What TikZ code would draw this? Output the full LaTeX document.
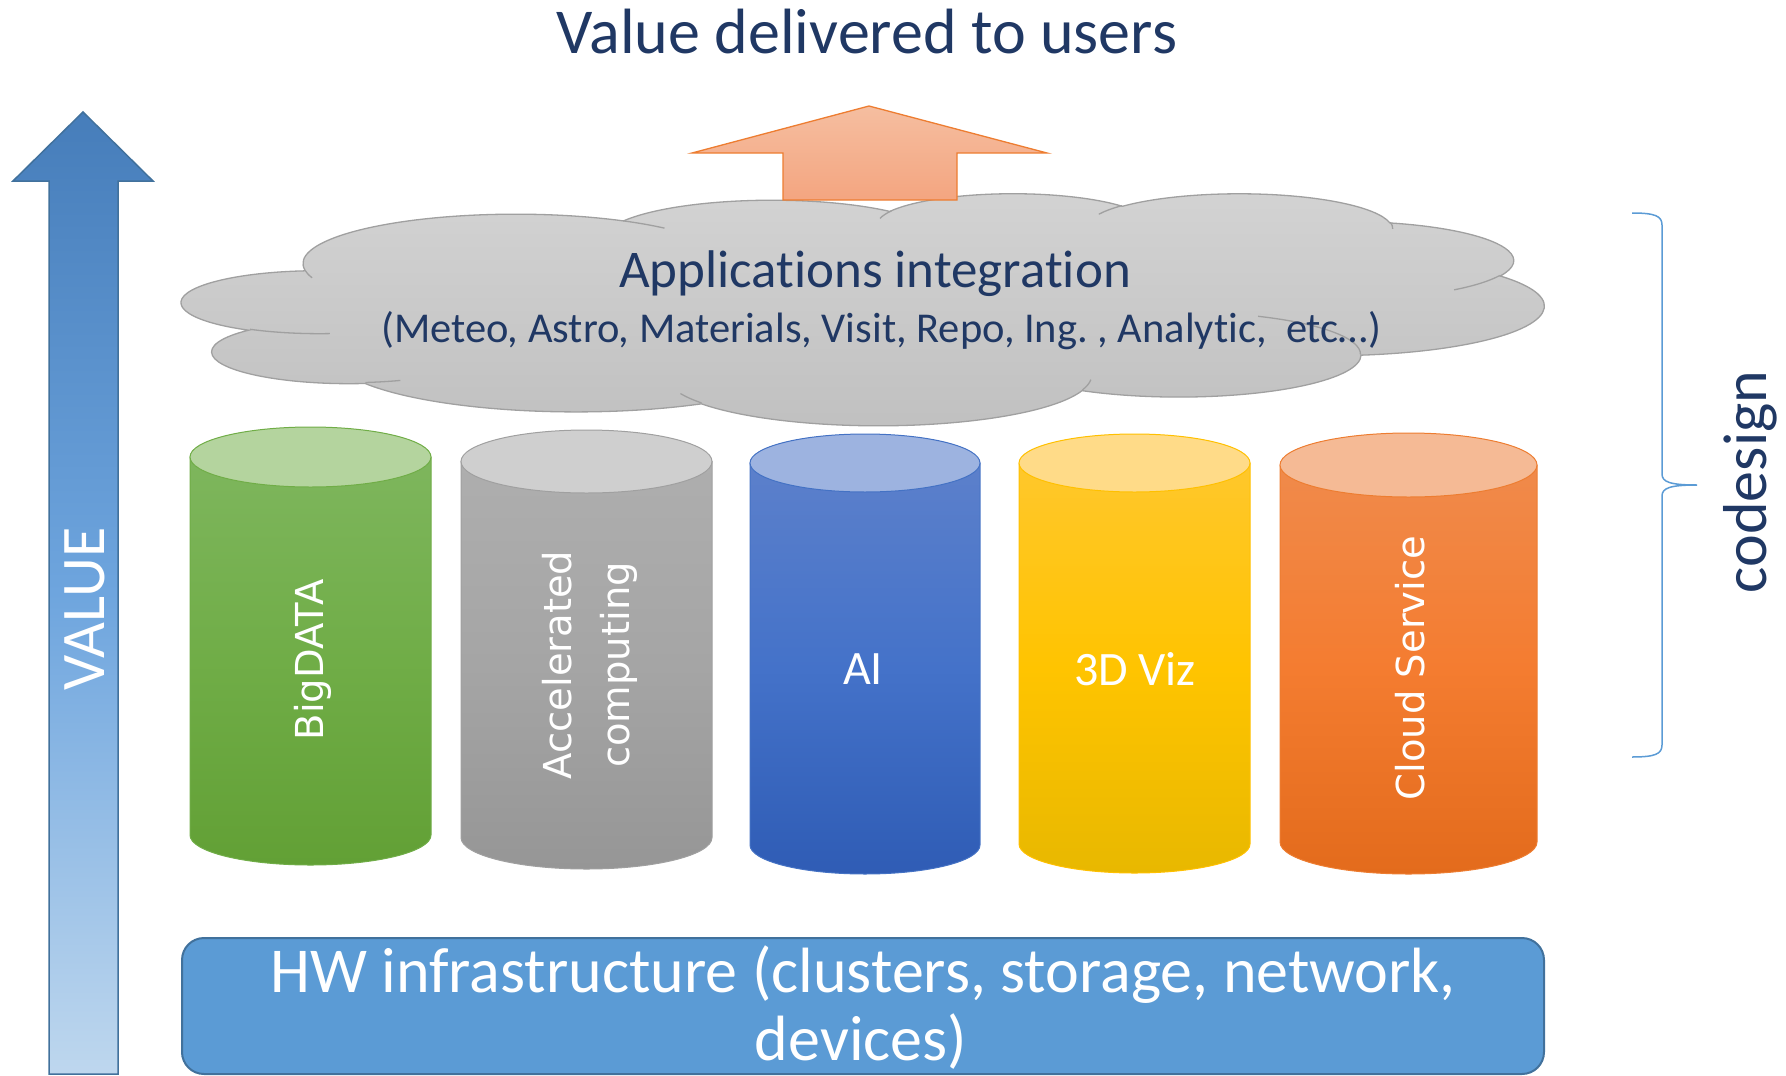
\documentclass[tikz,border=0pt]{standalone}
\usepackage{fontspec}
\setmainfont{Carlito}[RawFeature={-liga;-calt;-clig;-dlig}]
\newfontfamily\verd{DejaVu Sans}
\frenchspacing
\definecolor{navy}{RGB}{32,56,100}
\definecolor{valtop}{RGB}{70,125,186}
\definecolor{valmid}{RGB}{110,165,222}
\definecolor{valbot}{RGB}{190,215,238}
\definecolor{valline}{RGB}{65,113,156}
\definecolor{hwfill}{RGB}{91,155,213}
\definecolor{hwline}{RGB}{65,113,156}
\definecolor{cloudtop}{RGB}{211,211,211}
\definecolor{cloudbot}{RGB}{192,192,192}
\definecolor{cloudline}{RGB}{160,160,160}
\definecolor{arrtop}{RGB}{245,190,160}
\definecolor{arrbot}{RGB}{244,165,128}
\definecolor{arrline}{RGB}{237,125,49}
\definecolor{bracecol}{RGB}{91,155,213}
% cylinders
\definecolor{grtop}{RGB}{126,182,93}
\definecolor{grmid}{RGB}{112,173,71}
\definecolor{grbot}{RGB}{98,160,53}
\definecolor{grcap}{RGB}{180,212,158}
\definecolor{grline}{RGB}{112,173,71}
\definecolor{gytop}{RGB}{174,174,174}
\definecolor{gymid}{RGB}{165,165,165}
\definecolor{gybot}{RGB}{150,150,150}
\definecolor{gycap}{RGB}{207,207,207}
\definecolor{gyline}{RGB}{160,160,160}
\definecolor{bltop}{RGB}{92,128,203}
\definecolor{blmid}{RGB}{68,114,201}
\definecolor{blbot}{RGB}{47,92,181}
\definecolor{blcap}{RGB}{157,179,224}
\definecolor{blline}{RGB}{68,114,196}
\definecolor{yltop}{RGB}{255,199,44}
\definecolor{ylmid}{RGB}{255,196,0}
\definecolor{ylbot}{RGB}{232,184,0}
\definecolor{ylcap}{RGB}{255,219,136}
\definecolor{ylline}{RGB}{255,192,0}
\definecolor{ortop}{RGB}{240,138,75}
\definecolor{ormid}{RGB}{244,124,48}
\definecolor{orbot}{RGB}{227,107,28}
\definecolor{orcap}{RGB}{245,186,149}
\definecolor{orline}{RGB}{237,125,49}
\newcommand{\mycyl}[6]{%
  \pgfmathsetmacro\myrx{(#2-#1)/2}%
  \pgfmathsetmacro\mycx{(#1+#2)/2}%
  \draw[draw=#6line, line width=1pt, top color=#6top, bottom color=#6bot, middle color=#6mid]
    (#1,#3) -- (#1,#4) arc[start angle=180, end angle=0, x radius=\myrx, y radius=#5] -- (#2,#3) -- cycle;
  \draw[draw=#6line, line width=1pt, fill=#6cap] (\mycx,#3) ellipse[x radius=\myrx, y radius=#5];
}
\begin{document}
\begin{tikzpicture}[x=1pt,y=-1pt,
  navytxt/.style={text=navy, inner sep=0pt},
  whitetxt/.style={text=white, inner sep=0pt},
  cloudedge/.style={draw=cloudline, line width=1.3pt}]
\useasboundingbox (0,0) rectangle (1786,1076);

% VALUE arrow
\draw[draw=valline, line width=1.5pt, top color=valtop, bottom color=valbot, middle color=valmid]
  (83,112) -- (153,181) -- (118,181) -- (118,1074) -- (49,1074) -- (49,181) -- (13,181) -- cycle;
\node[whitetxt, rotate=90, font=\fontsize{62}{68}\selectfont] (value) at (85,609) {VALUE};

% title
\node[navytxt, anchor=base, font=\fontsize{64}{70}\selectfont] (title) at (867,53) {Value delivered to users};

% cloud
\begin{scope}[shift={(182,193)}, xscale=3.1528, yscale=0.53704]
\draw[cloudedge, top color=cloudtop, bottom color=cloudbot]
  (39.00,143.70)
  arc[start angle=-187.75, end angle=-59.66, x radius=67.53, y radius=91.90]
  arc[start angle=-152.02, end angle=-45.48, x radius=53.33, y radius=72.67]
  arc[start angle=-153.48, end angle=-37.33, x radius=43.65, y radius=59.45]
  arc[start angle=-139.71, end angle=-10.22, x radius=48.57, y radius=65.95]
  arc[start angle=-74.76, end angle=23.21, x radius=53.33, y radius=72.73]
  arc[start angle=-37.52, end angle=81.86, x radius=67.75, y radius=92.20]
  arc[start angle=0.46, end angle=121.98, x radius=57.85, y radius=78.67]
  arc[start angle=16.84, end angle=146.22, x radius=67.52, y radius=92.15]
  arc[start angle=59.03, end angle=150.17, x radius=77.20, y radius=105.43]
  arc[start angle=-276.69, end angle=-136.89, x radius=43.60, y radius=59.18]
  arc[start angle=-239.63, end angle=-95.89, x radius=43.45, y radius=59.45]
  -- cycle;
\draw[cloudedge] (46.93,261.77) arc[start angle=85.54, end angle=120.37, x radius=43.45, y radius=59.45];
\draw[cloudedge] (69.28,348.99) arc[start angle=68.24, end angle=83.31, x radius=43.60, y radius=59.18];
\draw[cloudedge] (164.78,390.90) arc[start angle=146.22, end angle=158.47, x radius=67.52, y radius=92.15];
\draw[cloudedge] (288.27,347.51) arc[start angle=4.74, end angle=16.84, x radius=67.52, y radius=92.15];
\draw[cloudedge] (341.29,229.54) arc[start angle=-64.01, end angle=0.46, x radius=57.85, y radius=78.67];
\draw[cloudedge] (417.98,153.54) arc[start angle=23.21, end angle=49.67, x radius=53.33, y radius=72.73];
\draw[cloudedge] (383.24,54.26) arc[start angle=-10.22, end angle=0.82, x radius=48.57, y radius=65.95];
\draw[cloudedge] (290.78,39.52) arc[start angle=-156.28, end angle=-139.71, x radius=48.57, y radius=65.95];
\draw[cloudedge] (221.41,47.20) arc[start angle=-167.72, end angle=-153.48, x radius=43.65, y radius=59.45];
\draw[cloudedge] (140.00,51.92) arc[start angle=-59.66, end angle=-45.74, x radius=67.53, y radius=91.90];
\draw[cloudedge] (41.27,157.89) arc[start angle=163.19, end angle=172.25, x radius=67.53, y radius=91.90];
\end{scope}
\node[navytxt, anchor=base, font=\fontsize{53}{60}\selectfont] (apps) at (875,287) {Applications integration};
\node[navytxt, anchor=base, font=\fontsize{42.5}{48}\selectfont] (appl) at (881,342) {(Meteo, Astro, Materials, Visit, Repo, Ing. , Analytic,~ etc…)};

% orange arrow
\draw[draw=arrline, line width=1.3pt, top color=arrtop, bottom color=arrbot]
  (869,106) -- (1047,153) -- (957,153) -- (957,200) -- (783,200) -- (783,153) -- (692,153) -- cycle;

% cylinders
\mycyl{190}{431}{457}{835}{30}{gr}
\mycyl{461}{712}{461.5}{837.5}{31.5}{gy}
\mycyl{750}{980}{463}{845}{29}{bl}
\mycyl{1019}{1250}{463}{844}{29}{yl}
\mycyl{1280}{1537}{465}{842}{32}{or}
\node[whitetxt, rotate=90, font=\verd\fontsize{38.5}{44}\selectfont] (bigdata) at (313,660) {BigDATA};
\node[whitetxt, rotate=90, align=center, font=\verd\fontsize{38.5}{58}\selectfont] (accel) at (590,665) {Accelerated\\computing};
\node[whitetxt, font=\fontsize{48}{54}\selectfont] (ai) at (863,669) {AI};
\node[whitetxt, font=\fontsize{48}{54}\selectfont] (viz) at (1135,669) {3D Viz};
\node[whitetxt, rotate=90, font=\verd\fontsize{38.5}{44}\selectfont] (cloudsvc) at (1410,668) {Cloud Service};

% brace + codesign
\draw[draw=bracecol, line width=1.5pt]
  (1632,213) .. controls (1655,213) and (1662,216) .. (1662,225) -- (1662,474)
  .. controls (1662,482) and (1670,485) .. (1697,485)
  .. controls (1670,485) and (1662,488) .. (1662,496) -- (1662,745)
  .. controls (1662,754) and (1655,757) .. (1632,757);
\node[navytxt, rotate=90, font=\fontsize{62}{70}\selectfont] (codesign) at (1750,482) {codesign};

% HW infrastructure
\node[draw=hwline, fill=hwfill, rounded corners=22pt, line width=2pt, minimum width=1362pt, minimum height=136pt, inner sep=0pt] (hw) at (863,1006) {};
\node[whitetxt, anchor=base, font=\fontsize{64}{68}\selectfont] (hwa) at (863,992) {HW infrastructure (clusters, storage, network,};
\node[whitetxt, anchor=base, font=\fontsize{64}{68}\selectfont] (hwb) at (861,1060) {devices)};
\end{tikzpicture}
\end{document}
